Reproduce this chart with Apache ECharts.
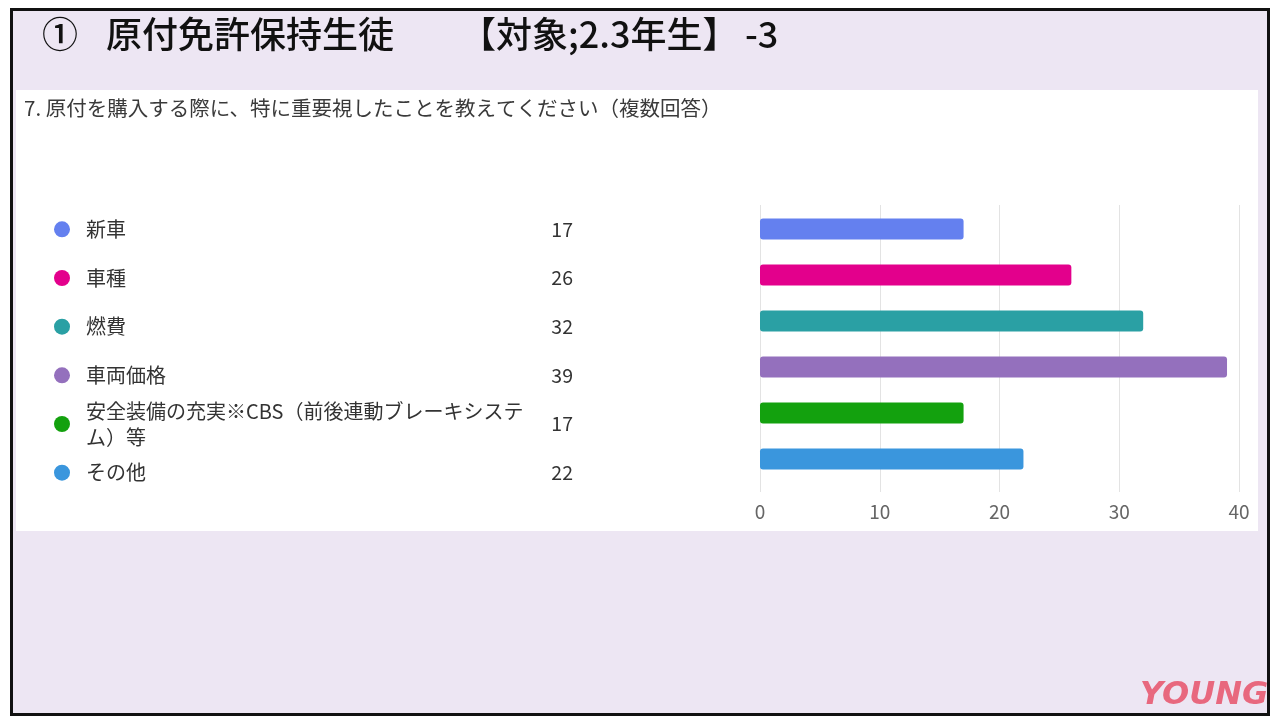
<!DOCTYPE html>
<html><head><meta charset="utf-8">
<script src="https://cdn.jsdelivr.net/npm/echarts@6/dist/echarts.min.js"></script>
<style>html,body{margin:0;padding:0;background:#fff}#c{width:1280px;height:725px}</style>
</head><body><div id="c"></div>
<script>
const categories = ['新車','車種','燃費','車両価格','安全装備の充実※CBS（前後連動ブレーキシステム）等','その他'];
const values = [17,26,32,39,17,22];
const colors = ['#6480ef','#e3008c','#2aa0a4','#9470bd','#13a10e','#3a96dd'];
const xTicks = [0,10,20,30,40];
const titleNo = '①';
const titleMain = '原付免許保持生徒';
const titleTarget = '【対象;2.3年生】';
const titleSuffix = '-3';
const question = '7. 原付を購入する際に、特に重要視したことを教えてください（複数回答）';

const font = '"Noto Sans CJK JP", "Noto Sans", sans-serif';
const chart = echarts.init(document.getElementById('c'));
chart.setOption({
  backgroundColor: '#ffffff',
  animation: false,
  graphic: [
    {type:'rect', shape:{x:11.5,y:9.5,width:1257,height:705}, style:{fill:'#ede6f3',stroke:'#111',lineWidth:3}, z:-10},
    {type:'rect', shape:{x:16,y:90,width:1242,height:441}, style:{fill:'#ffffff'}, z:-9},
    {type:'text', left:42, top:16, style:{text:titleNo, font:'500 36px '+font, fill:'#111'}},
    {type:'text', left:106, top:16, style:{text:titleMain, font:'500 36px '+font, fill:'#111'}},
    {type:'text', left:460, top:16, style:{text:titleTarget, font:'500 36px '+font, fill:'#111'}},
    {type:'text', left:745, top:16, style:{text:titleSuffix, font:'500 36px '+font, fill:'#111'}},
    {type:'text', left:24, top:98, style:{text:question, font:'20.5px '+font, fill:'#3a3a3a'}},
    {type:'text', left:1140, top:680, style:{text:'YOUNG', font:'900 italic 32px "DejaVu Sans", sans-serif', fill:'#e8687e'}}
  ],
  grid: [
    {left:760, right:41, top:206, height:276},
    {left:62, width:511, top:205, height:292},
    {left:760, right:41, top:205, height:287}
  ],
  xAxis: [
    {type:'value', gridIndex:0, min:0, max:40, interval:10, show:false},
    {type:'value', gridIndex:1, min:0, max:1, show:false},
    {type:'value', gridIndex:2, min:0, max:40, interval:10,
     axisLine:{show:false}, axisTick:{show:false},
     splitLine:{lineStyle:{color:'#e3e3e3'}},
     axisLabel:{color:'#666', fontSize:19, fontFamily:font, margin:10,
                formatter:(v)=> xTicks.includes(v) ? String(v) : ''}}
  ],
  yAxis: [
    {type:'category', gridIndex:0, data:categories, inverse:true, show:false},
    {type:'category', gridIndex:1, data:categories, inverse:true, show:false},
    {type:'category', gridIndex:1, data:values.map(String), inverse:true, position:'right',
     axisLine:{show:false}, axisTick:{show:false},
     axisLabel:{inside:true, margin:0, color:'#333', fontSize:19.5, fontFamily:font}},
    {type:'category', gridIndex:2, data:categories, show:false}
  ],
  series: [
    {type:'bar', xAxisIndex:0, yAxisIndex:0, barWidth:21,
     data: values.map((v,i)=>({value:v, itemStyle:{color:colors[i], borderRadius:3}}))},
    {type:'scatter', xAxisIndex:1, yAxisIndex:1, symbolSize:16,
     data: categories.map((c,i)=>({value:[0,c], name:c, itemStyle:{color:colors[i], opacity:1}})),
     label:{show:true, position:'right', distance:16, formatter:'{b}', color:'#333',
            fontSize:20, fontFamily:font, width:440, overflow:'break', lineHeight:26}}
  ]
});
</script></body></html>
